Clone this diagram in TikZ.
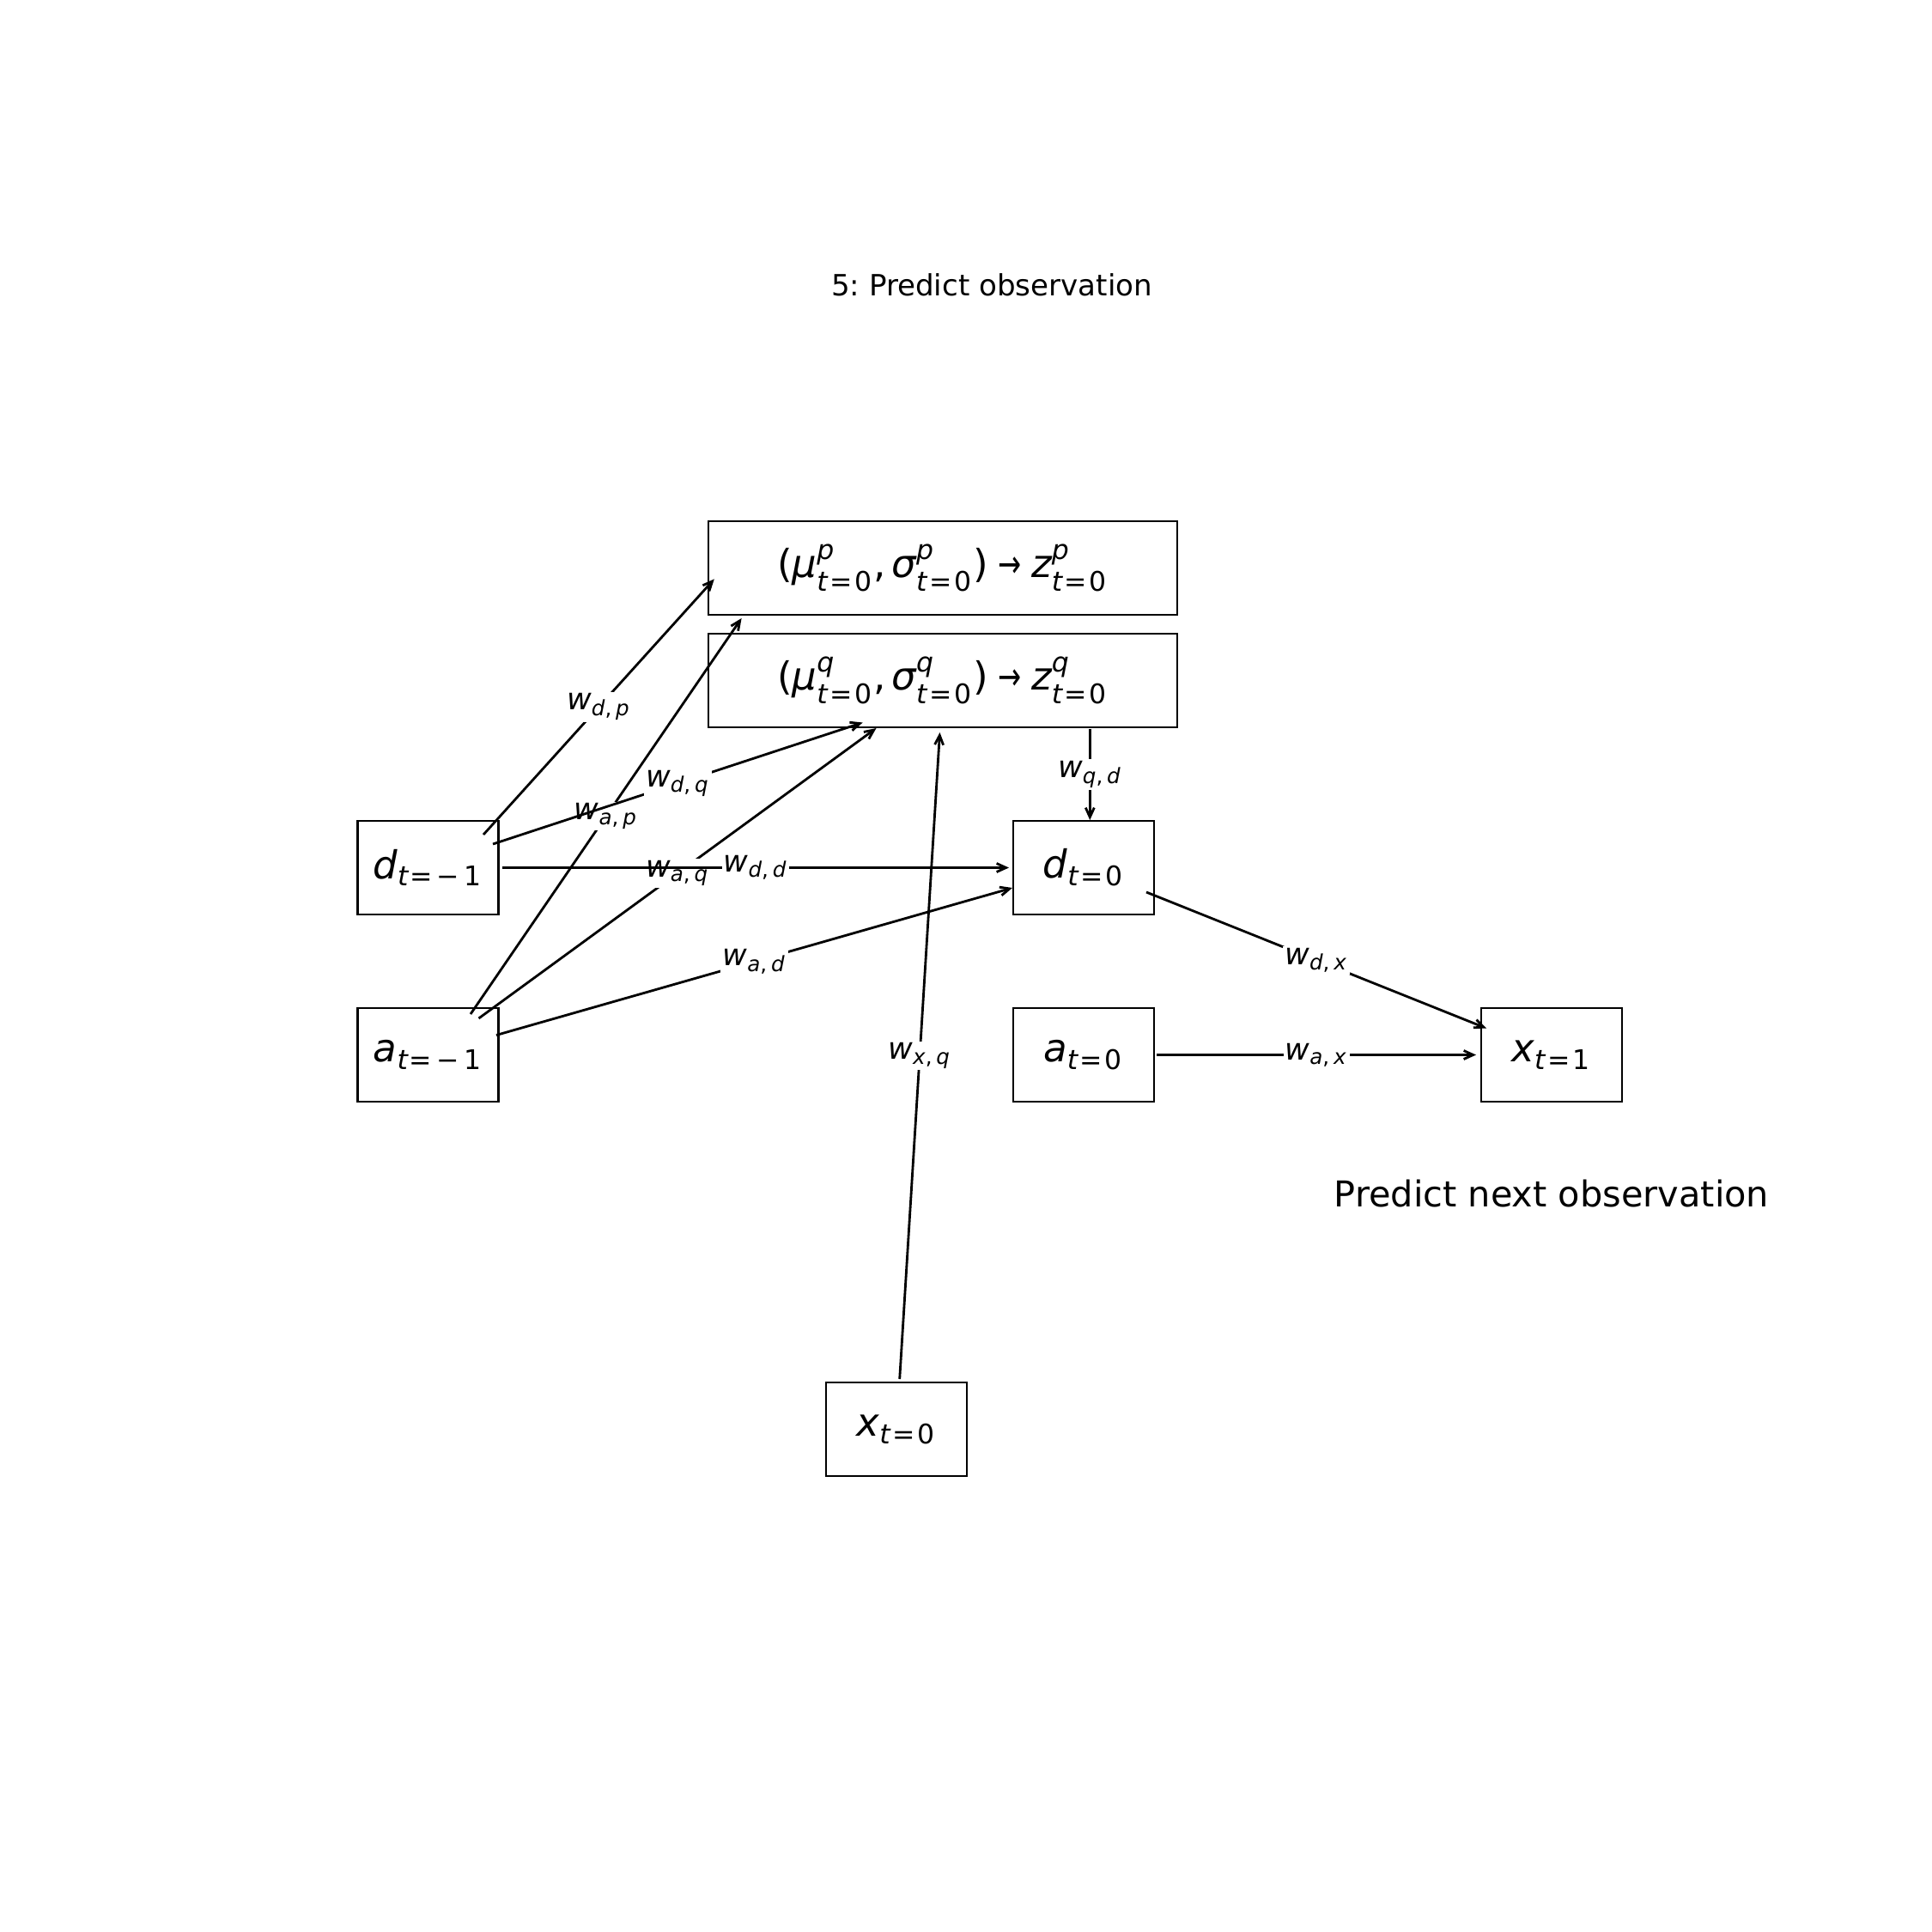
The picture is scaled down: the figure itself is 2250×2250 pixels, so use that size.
\documentclass[tikz,border=0pt]{standalone}
\usepackage{amsmath}
\usepackage{fontspec}
\setmainfont{DejaVu Sans}[ItalicFont={DejaVu Sans Oblique}]
\usetikzlibrary{arrows.meta,calc}
\frenchspacing
\newcommand{\iv}[1]{\text{\itshape #1}}
\newcommand{\rv}[1]{\text{\upshape #1}}
\newcommand{\teq}[1]{\iv{t}\mkern1.5mu\rv{=}\mkern1.5mu\rv{#1}}
\newcommand{\tneg}{\iv{t}\mkern1mu\rv{=}\mkern3mu\rv{−}\mkern3mu\rv{1}}
\newcommand{\wl}[2]{$\iv{w}_{\iv{#1}\rv{,}\mkern3mu\iv{#2}}$}
\newcommand{\arr}{\text{\scalebox{0.72}[1]{→}}}
\tikzset{
  box/.style={draw, line width=0.63pt, minimum width=16.4mm, minimum height=10.9mm,
    inner sep=0pt, font=\fontsize{12.8}{15}\selectfont},
  widebox/.style={box, minimum width=54.6mm},
  edge/.style={line width=0.8pt, -{Straight Barb[length=1.1mm,width=1mm]}},
  lbl/.style={fill=white, inner sep=0.6pt, font=\fontsize{10}{12}\selectfont},
}
\begin{document}
\begin{tikzpicture}[x=0.1mm,y=-0.1mm]
\useasboundingbox (0,0) rectangle (2250,2250);
% title and note
\node[anchor=base, font=\fontsize{9.7}{12}\selectfont] (title) at (1155,344.5) {5: Predict observation};
\node[anchor=base, font=\fontsize{11.8}{14}\selectfont] (note) at (1807,1405) {Predict next observation};
% boxes
\node[widebox] (P) at (1098,661.5) {$\rv{(}\iv{μ}^{\iv{p}}_{\teq{0}}\rv{,}\mkern3mu\iv{σ}^{\iv{p}}_{\teq{0}}\rv{)}\mkern5mu\arr\mkern5mu\iv{z}^{\iv{p}}_{\teq{0}}$};
\node[widebox] (Q) at (1098,792.5) {$\rv{(}\iv{μ}^{\iv{q}}_{\teq{0}}\rv{,}\mkern3mu\iv{σ}^{\iv{q}}_{\teq{0}}\rv{)}\mkern5mu\arr\mkern5mu\iv{z}^{\iv{q}}_{\teq{0}}$};
\node[box] (dm) at (498.5,1010.5) {$\iv{d}_{\tneg}$};
\node[box] (am) at (498.5,1228.5) {$\iv{a}_{\tneg}$};
\node[box] (d0) at (1262,1010.5) {$\iv{d}_{\teq{0}}$};
\node[box] (a0) at (1262,1228.5) {$\iv{a}_{\teq{0}}$};
\node[box] (x1) at (1806.75,1228.5) {$\iv{x}_{\teq{1}}$};
\node[box] (x0) at (1044,1664.5) {$\iv{x}_{\teq{0}}$};
% edges
\draw[edge] ($(dm.center)+(64.5,-38.5)$) -- node[lbl] (ldp) {\wl{d}{p}} ($(P.center)+(-266.2,12.9)$);
\draw[edge] ($(am.center)+(49.5,-47.5)$) -- node[lbl] (lap) {\wl{a}{p}} ($(P.center)+(-234.4,58.5)$);
\draw[edge] ($(dm.center)+(75.5,-27.5)$) -- node[lbl] (ldq) {\wl{d}{q}} ($(Q.center)+(-93.4,49)$);
\draw[edge] ($(am.center)+(59,-42.5)$) -- node[lbl] (laq) {\wl{a}{q}} ($(Q.center)+(-77.5,55.5)$);
\draw[edge] ($(dm.center)+(86.5,0)$) -- node[lbl] (ldd) {\wl{d}{d}} ($(d0.center)+(-87,0)$);
\draw[edge] ($(am.center)+(79.5,-23)$) -- node[lbl] (lad) {\wl{a}{d}} ($(d0.center)+(-83,23.5)$);
\draw[edge] ($(x0.center)+(3.7,-58.5)$) -- node[lbl] (lxq) {\wl{x}{q}} ($(Q.center)+(-3.5,60.5)$);
\draw[edge] ($(Q.center)+(171.3,56.5)$) -- node[lbl] (lqd) {\wl{q}{d}} ($(d0.center)+(7.3,-55.5)$);
\draw[edge] ($(d0.center)+(73,28.5)$) -- node[lbl] (ldx) {\wl{d}{x}} ($(x1.center)+(-75.75,-31)$);
\draw[edge] ($(a0.center)+(85,0)$) -- node[lbl] (lax) {\wl{a}{x}} ($(x1.center)+(-87.75,0)$);
\end{tikzpicture}
\end{document}
